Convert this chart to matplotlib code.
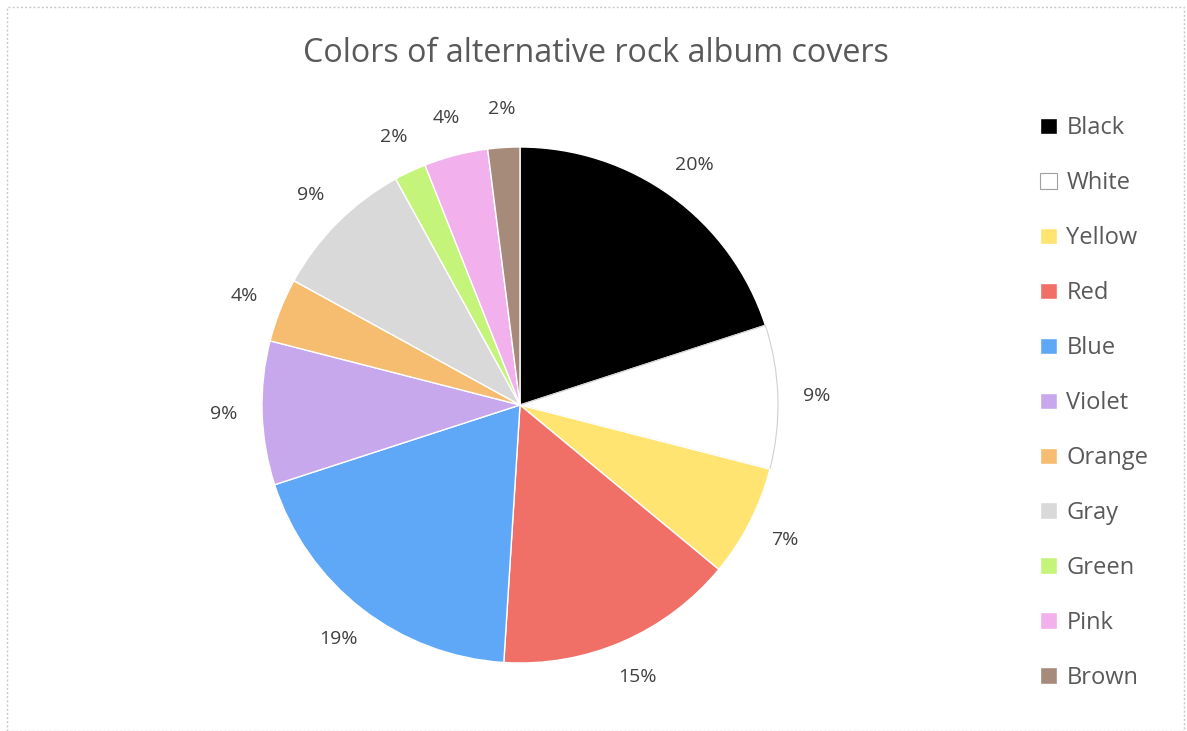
import matplotlib.pyplot as plt
from matplotlib.patches import Rectangle

plt.rcParams['font.family'] = ['Open Sans', 'DejaVu Sans']

colores = ['Black', 'White', 'Yellow', 'Red', 'Blue', 'Violet',
           'Orange', 'Gray', 'Green', 'Pink', 'Brown']
percent = [20, 9, 7, 15, 19, 9, 4, 9, 2, 4, 2]
cores = ['#000000', '#ffffff', '#ffe471', '#f07068', '#5fa8f8', '#c8a8ec',
         '#f6bc70', '#d9d9d9', '#c4f57a', '#f2b0ec', '#a68a7a']

W, H = 1187, 731
fig = plt.figure(figsize=(W / 100, H / 100), dpi=100)

# pie centred at (520, 405) px, radius 258 px
cx, cy, r = 520, 405, 258
ax = fig.add_axes([(cx - r) / W, (H - cy - r) / H, 2 * r / W, 2 * r / H])
wedges, textos, autos = ax.pie(
    percent, colors=cores, startangle=90, counterclock=False,
    autopct='%d%%', pctdistance=1.15, radius=1,
    wedgeprops=dict(edgecolor='white', linewidth=1),
    textprops=dict(color='#404040', fontsize=14))
wedges[1].set_edgecolor('#d0d0d0')
wedges[1].set_linewidth(0.8)
ax.set_xlim(-1, 1)
ax.set_ylim(-1, 1)
ax.set_aspect('auto')

fig.text(596 / W, 1 - 53 / H, 'Colors of alternative rock album covers',
         ha='center', va='center', fontsize=23.2, color='#595959')

leg = fig.legend(wedges, colores, loc='upper left',
                 bbox_to_anchor=(1031 / W, 1 - 107 / H), frameon=False,
                 fontsize=17, labelspacing=1.31, handlelength=0.7,
                 handleheight=0.7, handletextpad=0.4, borderaxespad=0)
for t in leg.get_texts():
    t.set_color('#595959')
leg.legend_handles[1].set_edgecolor('#a0a0a0')

# dotted outer border
fig.patches.append(Rectangle((7 / W, 0), 1177 / W, 1 - 7 / H,
                             transform=fig.transFigure, fill=False,
                             edgecolor='#c8c8c8', linestyle=(0, (1.5, 1.5)),
                             linewidth=1))

fig.savefig('out.png', dpi=100)
